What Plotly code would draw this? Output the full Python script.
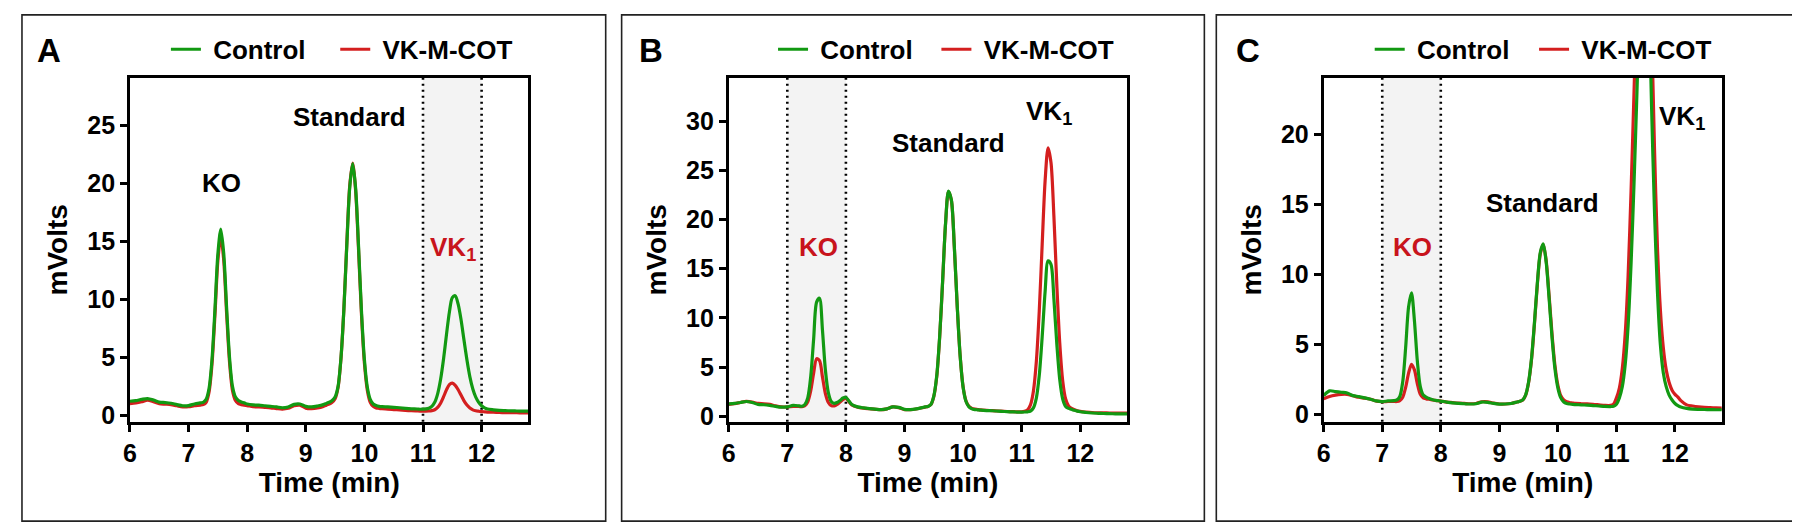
import plotly.graph_objects as go

# ---------------- data ----------------
time_min = [6.0, 6.1, 6.2, 6.3, 6.4, 6.5, 6.6, 6.7, 6.8, 6.9, 7.0, 7.1, 7.2,
            7.25, 7.3, 7.35, 7.4, 7.45, 7.5, 7.55, 7.6, 7.65, 7.7, 7.75, 7.8, 7.85, 7.9, 7.95,
            8.0, 8.1, 8.2, 8.3, 8.4, 8.5, 8.6, 8.7, 8.8, 8.9, 9.0, 9.1, 9.2, 9.3,
            9.35, 9.4, 9.45, 9.5, 9.55, 9.6, 9.65, 9.7, 9.75, 9.8, 9.85, 9.9, 9.95, 10.0,
            10.05, 10.1, 10.15, 10.2, 10.25,
            10.3, 10.4, 10.5, 10.6, 10.7, 10.8, 10.9,
            10.95, 11.0, 11.05, 11.1, 11.15, 11.2, 11.25, 11.3, 11.35, 11.4, 11.45, 11.5,
            11.55, 11.6, 11.65, 11.7, 11.75, 11.8, 11.85, 11.9, 11.95, 12.0, 12.05,
            12.1, 12.2, 12.3, 12.4, 12.5, 12.6, 12.7, 12.8]

control_a = [1.19, 1.25, 1.35, 1.42, 1.3, 1.12, 1.08, 1.02, 0.9, 0.8, 0.82, 0.95, 1.05,
             1.1, 1.35, 2.3, 4.8, 9.1, 13.9, 16.05, 13.95, 9.2, 4.9, 2.45, 1.55, 1.25, 1.12, 1.05,
             0.95, 0.87, 0.85, 0.8, 0.75, 0.7, 0.63, 0.7, 0.92, 0.95, 0.75, 0.7, 0.78, 0.9,
             1.0, 1.1, 1.25, 1.55, 2.45, 4.9, 9.1, 14.65, 19.65, 21.7, 19.6, 14.6, 9.0, 4.8,
             2.4, 1.35, 0.95, 0.82, 0.75,
             0.72, 0.7, 0.67, 0.63, 0.58, 0.54, 0.52,
             0.5, 0.51, 0.53, 0.59, 0.75, 1.1, 1.83, 3.06, 4.81, 6.92, 8.88, 10.14,
             10.3, 9.57, 8.2, 6.45, 4.75, 3.3, 2.25, 1.55, 1.1, 0.8, 0.62,
             0.52, 0.45, 0.4, 0.38, 0.36, 0.35, 0.34, 0.34]
vkmcot_a = [0.99, 1.05, 1.15, 1.28, 1.15, 0.98, 0.94, 0.9, 0.8, 0.71, 0.72, 0.8, 0.86,
            0.9, 1.1, 2.0, 4.4, 8.6, 13.3, 15.45, 13.35, 8.7, 4.5, 2.1, 1.25, 0.98, 0.9, 0.85,
            0.82, 0.72, 0.7, 0.66, 0.62, 0.56, 0.51, 0.58, 0.8, 0.85, 0.6, 0.56, 0.62, 0.75,
            0.85, 0.95, 1.1, 1.4, 2.35, 4.85, 9.15, 14.8, 19.8, 21.75, 19.4, 14.3, 8.7, 4.5,
            2.15, 1.1, 0.75, 0.62, 0.58,
            0.55, 0.5, 0.47, 0.44, 0.4, 0.37, 0.35,
            0.34, 0.34, 0.34, 0.35, 0.38, 0.46, 0.66, 1.02, 1.56, 2.17, 2.63, 2.75,
            2.57, 2.18, 1.7, 1.23, 0.86, 0.6, 0.45, 0.37, 0.33, 0.3, 0.28,
            0.26, 0.24, 0.22, 0.21, 0.2, 0.2, 0.19, 0.19]

control_b = [1.25, 1.3, 1.4, 1.5, 1.4, 1.2, 1.17, 1.1, 1.0, 0.92, 0.95, 1.1, 1.05,
             1.02, 1.2, 1.9, 4.05, 7.9, 11.6, 12.0, 8.75, 4.7, 2.4, 1.5, 1.3, 1.4, 1.6, 1.85,
             1.9, 1.2, 0.95, 0.85, 0.78, 0.72, 0.67, 0.75, 0.95, 0.9, 0.7, 0.68, 0.75, 0.88,
             0.95, 1.0, 1.2, 2.05, 4.1, 8.1, 13.7, 19.55, 22.9, 22.0, 17.3, 11.2, 6.1, 2.95,
             1.5, 0.95, 0.75, 0.68, 0.65,
             0.62, 0.58, 0.56, 0.52, 0.48, 0.45, 0.43,
             0.42, 0.42, 0.43, 0.45, 0.52, 0.85, 1.85, 4.15, 8.1, 12.7, 15.8, 15.45,
             11.9, 7.3, 3.7, 1.75, 1.0, 0.8, 0.7, 0.6, 0.52, 0.46, 0.42,
             0.38, 0.33, 0.3, 0.28, 0.26, 0.25, 0.24, 0.24]
vkmcot_b = [1.2, 1.28, 1.4, 1.52, 1.45, 1.3, 1.27, 1.2, 1.05, 0.95, 0.95, 1.0, 1.0,
            0.97, 1.07, 1.48, 2.6, 4.4, 5.85, 5.65, 4.0, 2.3, 1.4, 1.08, 1.05, 1.2, 1.45, 1.7,
            1.8, 1.15, 0.92, 0.82, 0.76, 0.7, 0.66, 0.75, 0.95, 0.88, 0.68, 0.67, 0.74, 0.86,
            0.93, 0.98, 1.18, 2.0, 4.0, 8.0, 13.6, 19.5, 22.85, 21.95, 17.25, 11.15, 6.1, 3.0,
            1.55, 1.0, 0.8, 0.72, 0.68,
            0.64, 0.6, 0.57, 0.53, 0.5, 0.47, 0.45,
            0.44, 0.44, 0.5, 0.65, 1.16, 2.55, 5.55, 10.7, 17.5, 23.95, 27.3, 25.8,
            20.3, 13.3, 7.4, 3.6, 1.75, 1.05, 0.8, 0.65, 0.55, 0.5, 0.46,
            0.43, 0.38, 0.35, 0.34, 0.33, 0.33, 0.32, 0.32]

control_c = [1.36, 1.7, 1.65, 1.6, 1.55, 1.36, 1.29, 1.2, 1.1, 0.98, 0.93, 0.98, 1.0,
             1.05, 1.3, 2.35, 4.8, 7.7, 8.7, 6.7, 3.8, 2.0, 1.4, 1.25, 1.15, 1.08, 1.03, 1.0,
             0.97, 0.9, 0.84, 0.8, 0.78, 0.76, 0.78, 0.9, 0.88, 0.8, 0.75, 0.76, 0.8, 0.9,
             0.95, 1.05, 1.42, 2.35, 4.05, 6.6, 9.45, 11.6, 12.2, 10.9, 8.3, 5.5, 3.25, 1.9,
             1.2, 0.9, 0.8, 0.76, 0.73,
             0.72, 0.7, 0.68, 0.65, 0.62, 0.59, 0.58,
             0.6, 0.75, 1.2, 2.0, 3.6, 6.4, 10.8, 16.5, 23.0, 30.0, 35.0, 36.0,
             30.5, 22.0, 14.5, 8.8, 5.0, 3.0, 2.0, 1.4, 1.05, 0.8, 0.65,
             0.55, 0.45, 0.4, 0.38, 0.37, 0.36, 0.35, 0.35]
vkmcot_c = [1.13, 1.3, 1.4, 1.45, 1.45, 1.35, 1.24, 1.18, 1.1, 0.97, 0.93, 0.94, 0.94,
            0.94, 1.0, 1.25, 1.95, 2.97, 3.6, 3.2, 2.2, 1.45, 1.2, 1.13, 1.1, 1.06, 1.02, 1.0,
            0.97, 0.9, 0.86, 0.82, 0.8, 0.78, 0.8, 0.92, 0.92, 0.82, 0.76, 0.76, 0.8, 0.9,
            0.95, 1.05, 1.4, 2.3, 3.95, 6.5, 9.35, 11.5, 12.15, 11.0, 8.5, 5.75, 3.5, 2.1,
            1.35, 1.05, 0.92, 0.86, 0.83,
            0.8, 0.78, 0.77, 0.74, 0.7, 0.66, 0.66,
            0.75, 1.2, 1.9, 3.3, 5.8, 10.0, 16.0, 23.0, 30.5, 37.0, 41.0, 41.5,
            37.5, 28.0, 19.0, 12.0, 7.5, 4.8, 3.2, 2.3, 1.75, 1.45, 1.25,
            1.0, 0.7, 0.62, 0.56, 0.52, 0.5, 0.48, 0.47]

panel_letters = ["A", "B", "C"]
series_names = ["Control", "VK-M-COT"]
x_ticks = [6, 7, 8, 9, 10, 11, 12]
y_ticks_a = [0, 5, 10, 15, 20, 25]
y_ticks_b = [0, 5, 10, 15, 20, 25, 30]
y_ticks_c = [0, 5, 10, 15, 20]
shaded_windows = [(11, 12), (7, 8), (7, 8)]   # highlighted retention windows
# peak labels: (text, x, y, highlighted)
peak_labels_a = [("KO", 7.57, 20.06, False), ("Standard", 9.75, 25.77, False), ("VK<sub>1</sub>", 11.52, 14.4, True)]
peak_labels_b = [("KO", 7.53, 17.2, True), ("Standard", 9.75, 27.8, False), ("VK<sub>1</sub>", 11.46, 30.9, False)]
peak_labels_c = [("KO", 7.52, 12.0, True), ("Standard", 9.745, 15.15, False), ("VK<sub>1</sub>", 12.12, 21.2, False)]

# ---------------- styling ----------------
GREEN = "#129912"
RED = "#d41f1f"
RED_TEXT = "#c8141c"
FONT = "Liberation Sans, Arial, sans-serif"
W, H = 1800, 529

x_domains = [(115.4, 515.5), (716.5, 1116.5), (1313.8, 1713.5)]
y_top_px, y_bot_px = 71.0, 420.0
y_ranges = [(-0.57, 29.1), (-0.55, 34.4), (-0.5, 24.06)]
y_ticks = [y_ticks_a, y_ticks_b, y_ticks_c]
ctrl = [control_a, control_b, control_c]
vk = [vkmcot_a, vkmcot_b, vkmcot_c]
labels = [peak_labels_a, peak_labels_b, peak_labels_c]
boxes_px = [(7, 593), (609, 1194), (1206, 1792)]
letter_px = [34.5, 638.5, 1238]
legend_ctrl_px = [151.5, 761, 1360]
legend_vk_px = [321.5, 925, 1525]

fig = go.Figure()
for i in range(3):
    sfx = "" if i == 0 else str(i + 1)
    leg_ctrl = "legend" if i == 0 else "legend%d" % (2 * i + 1)
    leg_vk = "legend%d" % (2 * i + 2)
    fig.add_trace(go.Scatter(x=time_min, y=vk[i], mode="lines", name="\u00a0" + series_names[1],
                             line=dict(color=RED, width=3.2, shape="spline", smoothing=0.8),
                             xaxis="x" + sfx, yaxis="y" + sfx, legend=leg_vk, showlegend=True))
    fig.add_trace(go.Scatter(x=time_min, y=ctrl[i], mode="lines", name="\u00a0" + series_names[0],
                             line=dict(color=GREEN, width=3.2, shape="spline", smoothing=0.8),
                             xaxis="x" + sfx, yaxis="y" + sfx, legend=leg_ctrl, showlegend=True))

layout = dict(width=W, height=H, margin=dict(l=0, r=0, t=0, b=0),
              paper_bgcolor="white", plot_bgcolor="white", showlegend=True,
              font=dict(family=FONT, color="black"))
shapes, annotations = [], []
tickfont = dict(family=FONT, size=25, color="black", weight="bold")
titlefont = dict(family=FONT, size=28, color="black", weight="bold")
legfont = dict(family=FONT, size=26, color="black", weight="bold")
for i in range(3):
    sfx = "" if i == 0 else str(i + 1)
    x0, x1 = x_domains[i]
    layout["xaxis" + sfx] = dict(
        domain=[x0 / W, x1 / W], range=[6, 12.8], anchor="y" + sfx,
        tickvals=x_ticks, ticks="outside", ticklen=7, tickwidth=2.8, tickcolor="black",
        showline=True, linewidth=2.8, linecolor="black", mirror=True,
        showgrid=False, zeroline=False, tickfont=tickfont,
        title=dict(text="Time (min)", font=titlefont, standoff=7))
    layout["yaxis" + sfx] = dict(
        domain=[1 - y_bot_px / H, 1 - y_top_px / H], range=list(y_ranges[i]), anchor="x" + sfx,
        tickvals=y_ticks[i], ticks="outside", ticklen=7, tickwidth=2.8, tickcolor="black",
        showline=True, linewidth=2.8, linecolor="black", mirror=True,
        showgrid=False, zeroline=False, tickfont=tickfont,
        title=dict(text="mVolts", font=titlefont, standoff=12))
    leg_ctrl = "legend" if i == 0 else "legend%d" % (2 * i + 1)
    leg_vk = "legend%d" % (2 * i + 2)
    for leg, lx in ((leg_ctrl, legend_ctrl_px[i]), (leg_vk, legend_vk_px[i])):
        layout[leg] = dict(orientation="h", x=lx / W, xanchor="left",
                           y=1 - 42 / H, yanchor="middle", bgcolor="rgba(0,0,0,0)",
                           font=legfont, itemwidth=30, visible=True)
    # shaded window and dotted borders
    w0, w1 = shaded_windows[i]
    shapes.append(dict(type="rect", xref="x" + sfx, yref="y" + sfx + " domain",
                       x0=w0, x1=w1, y0=0, y1=1, fillcolor="#f3f3f3", line=dict(width=0),
                       layer="below"))
    for xv in (w0, w1):
        shapes.append(dict(type="line", xref="x" + sfx, yref="y" + sfx + " domain",
                           x0=xv, x1=xv, y0=0, y1=1,
                           line=dict(color="black", width=2.6, dash="2px,4px"), layer="below"))
    # panel frame
    bx0, bx1 = boxes_px[i]
    shapes.append(dict(type="rect", xref="paper", yref="paper", x0=bx0 / W, x1=bx1 / W,
                       y0=1 - 521 / H, y1=1 - 7 / H, line=dict(color="#222222", width=1.6),
                       fillcolor="rgba(0,0,0,0)"))
    annotations.append(dict(text="<b>%s</b>" % panel_letters[i], xref="paper", yref="paper",
                            x=letter_px[i] / W, y=1 - 43 / H, showarrow=False,
                            xanchor="center", yanchor="middle",
                            font=dict(family=FONT, size=33, color="black")))
    for txt, xv, yv, hl in labels[i]:
        annotations.append(dict(text="<b>%s</b>" % txt, xref="x" + sfx, yref="y" + sfx,
                                x=xv, y=yv, showarrow=False, xanchor="center", yanchor="middle",
                                font=dict(family=FONT, size=26,
                                          color=RED_TEXT if hl else "black")))
layout["shapes"] = shapes
layout["annotations"] = annotations
fig.update_layout(**layout)
fig.write_html("out.html")
